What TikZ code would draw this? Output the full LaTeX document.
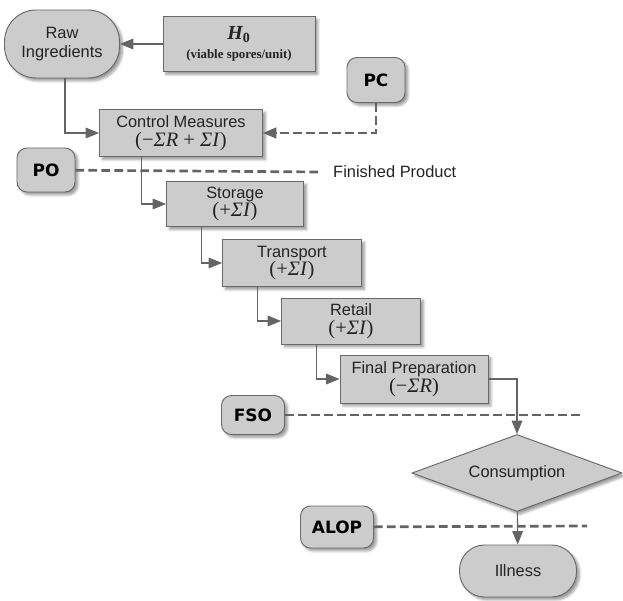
\documentclass[tikz,border=0pt]{standalone}
\usepackage{fontspec}
\setmainfont{Liberation Sans}
\newfontfamily\timesfont{Liberation Serif}
\newfontfamily\labelfont{DejaVu Sans}
\usepackage{tikz}
\usetikzlibrary{shapes.geometric, arrows.meta, positioning, shadows.blur}
\definecolor{boxgray}{RGB}{204,204,204}
\definecolor{edgegray}{RGB}{105,105,105}
\definecolor{linegray}{RGB}{100,100,100}
\definecolor{textdark}{RGB}{35,35,35}
\newcommand{\boxfont}{\fontsize{14}{16}\selectfont}
\newcommand{\effect}[1]{{\fontsize{17.5}{20}\selectfont\timesfont #1}}
\tikzset{
  stepbox/.style={rectangle, draw=edgegray, fill=boxgray,
    align=center, inner sep=0pt, font=\boxfont, text=textdark,
    line width=0.8pt,
    blur shadow={shadow xshift=2.5pt, shadow yshift=-2.5pt, shadow blur steps=6}},
  endbox/.style={stepbox, rounded corners=0.95cm},
  tagbox/.style={stepbox, rounded corners=0.3cm, text=black,
    font=\labelfont\bfseries\fontsize{14.5}{16}\selectfont},
  decision/.style={stepbox, diamond, aspect=2.7},
  conn/.style={draw=linegray, line width=0.9pt,
    -{Triangle[length=0.4cm, width=0.32cm]}},
  guide/.style={draw=linegray, line width=2.3pt, dash pattern=on 0.26cm off 0.13cm},
  dashconn/.style={guide, line width=1.8pt, -{Triangle[length=0.4cm, width=0.32cm]}}
}
\begin{document}
\begin{tikzpicture}[x=0.03cm, y=-0.03cm]
  \useasboundingbox (0,0) rectangle (623,601);

  % Sources
  \node[endbox, minimum width=3.45cm, minimum height=2.04cm] (raw) at (62,44) {Raw\\Ingredients};
  \node[stepbox, minimum width=4.56cm, minimum height=1.65cm] (hzero) at (239,44)
    {{\timesfont\bfseries\itshape\fontsize{17}{19}\selectfont H\textsubscript{\upshape 0}}\\
     {\timesfont\bfseries\fontsize{11}{13}\selectfont (viable spores/unit)}};
  \node[tagbox, minimum width=1.74cm, minimum height=1.35cm] (pc) at (376,80) {PC};

  % Chain of steps
  \node[stepbox, minimum width=4.89cm, minimum height=1.41cm] (control) at (181,133)
    {Control Measures\\\effect{(−\textit{ΣR} + \textit{ΣI})}};
  \node[stepbox, minimum width=4.11cm, minimum height=1.35cm] (storage) at (235,204)
    {Storage\\\effect{(+\textit{ΣI})}};
  \node[stepbox, minimum width=4.17cm, minimum height=1.41cm] (transport) at (292,263)
    {Transport\\\effect{(+\textit{ΣI})}};
  \node[stepbox, minimum width=4.17cm, minimum height=1.38cm] (retail) at (351,321)
    {Retail\\\effect{(+\textit{ΣI})}};
  \node[stepbox, minimum width=4.44cm, minimum height=1.44cm] (prep) at (414,379)
    {Final Preparation\\\effect{(−\textit{ΣR})}};
  \node[decision, minimum width=6.3cm, minimum height=2.31cm] (consume) at (517,473) {Consumption};
  \node[endbox, rounded corners=0.75cm, minimum width=3.51cm, minimum height=1.56cm] (illness) at (518,571) {Illness};

  % Targets
  \node[tagbox, minimum width=1.74cm, minimum height=1.32cm] (po) at (46,170) {PO};
  \node[tagbox, minimum width=1.89cm, minimum height=1.17cm] (fso) at (253,415) {FSO};
  \node[tagbox, minimum width=2.19cm, minimum height=1.26cm] (alop) at (337,527) {ALOP};
  \node[anchor=west, inner sep=0pt, font=\boxfont, text=textdark] (finished) at (333,172) {Finished Product};
  \coordinate (fsoend) at (580,415);
  \coordinate (alopend) at (587,526);

  % Flow
  \draw[conn] (hzero) -- (raw);
  \draw[conn] ([xshift=0.09cm]raw.south) |- (control);
  \draw[dashconn] (pc) |- (control);
  \draw[conn] ([xshift=1.26cm]control.south west) |- (storage);
  \draw[conn] ([xshift=1.05cm]storage.south west) |- (transport);
  \draw[conn] ([xshift=1.05cm]transport.south west) |- (retail);
  \draw[conn] ([xshift=1.05cm]retail.south west) |- (prep);
  \draw[conn] (prep) -| (consume);
  \draw[conn] (consume) -- (illness);

  % Limits
  \draw[guide] (po) -- ([xshift=-0.39cm]finished.west);
  \draw[guide] (fso) -- (fsoend);
  \draw[guide] (alop) -- (alopend);
\end{tikzpicture}
\end{document}
